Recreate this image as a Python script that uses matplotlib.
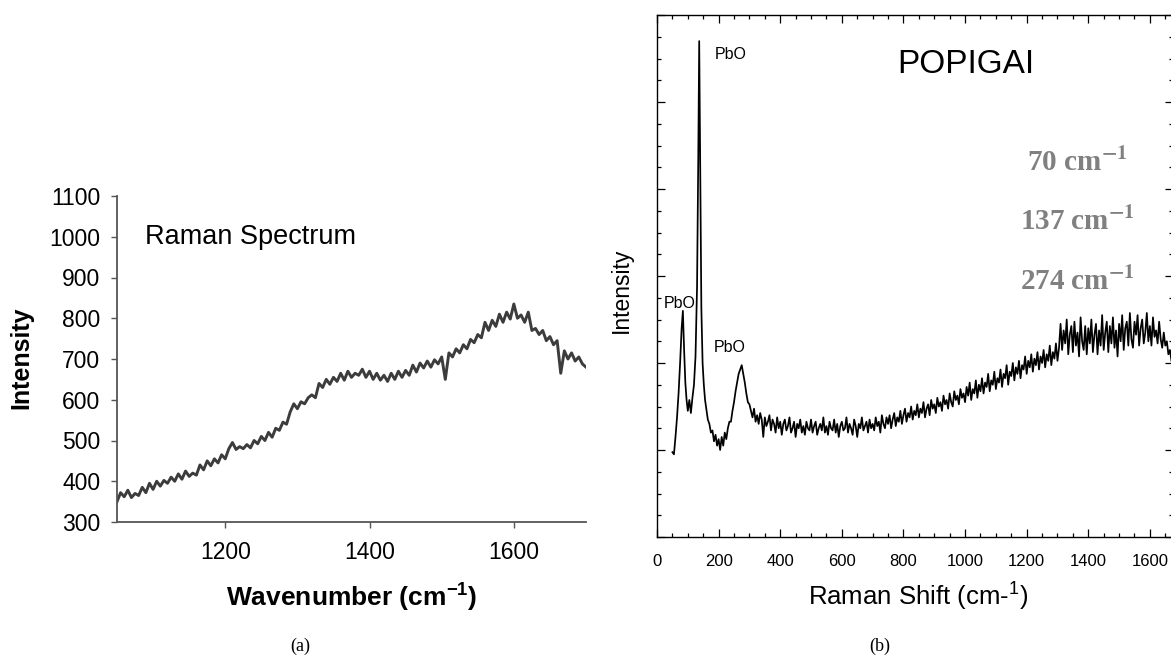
import numpy as np
import matplotlib
matplotlib.use("Agg")
import matplotlib.pyplot as plt
from matplotlib.ticker import MultipleLocator

plt.rcParams['font.family'] = ['Liberation Sans', 'DejaVu Sans']
plt.rcParams['mathtext.fontset'] = 'custom'
plt.rcParams['mathtext.rm'] = 'Liberation Sans'
plt.rcParams['mathtext.bf'] = 'Liberation Sans:bold'
plt.rcParams['mathtext.it'] = 'Liberation Sans:italic'

# (a) Raman spectrum, 1050-1700 cm-1, step 5
wn_a = np.arange(1050, 1701, 5)
int_a = [350, 372, 362, 378, 360, 370, 365, 385, 372, 395,
         380, 400, 388, 402, 395, 410, 400, 418, 405, 425,
         412, 420, 415, 440, 428, 450, 438, 455, 445, 465,
         455, 480, 495, 478, 485, 480, 490, 482, 500, 492,
         510, 500, 520, 508, 530, 525, 545, 540, 570, 590,
         578, 595, 590, 605, 612, 605, 640, 630, 650, 638,
         655, 645, 665, 648, 670, 655, 665, 660, 675, 655,
         670, 650, 665, 648, 660, 645, 665, 650, 670, 655,
         672, 660, 685, 668, 690, 678, 695, 680, 698, 688,
         705, 650, 715, 705, 725, 715, 735, 725, 748, 740,
         760, 752, 790, 770, 795, 780, 810, 790, 815, 798,
         835, 800, 808, 790, 815, 770, 775, 760, 770, 745,
         755, 735, 745, 665, 720, 700, 715, 695, 705, 688,
         680]

# (b) POPIGAI spectrum (arbitrary intensity units)
wn_b = [50, 55, 60, 65, 70, 75, 80, 84, 88, 92, 96, 100, 105, 110, 115,
        120, 125, 130, 134, 137, 140, 144, 148, 152, 156] + list(range(160, 1671, 5))
int_b = [3.9, 3.8, 4.6, 5.5, 6.6, 8.0, 9.6, 10.4, 8.6, 7.1, 6.3, 5.8, 6.3, 5.7, 6.4,
         7.0, 8.3, 11.5, 17.5, 22.8, 17.5, 10.5, 8.0, 7.0, 6.3,
         5.9, 5.4, 5.2, 4.8, 4.9, 4.4, 4.7, 4.2, 4.5, 4.0,
         4.6, 4.2, 4.8, 4.5, 5.0, 5.3, 5.3, 5.8, 6.2, 6.7,
         7.1, 7.5, 7.7, 7.9, 7.5, 7.1, 6.6, 6.2,
         6.1, 5.8, 5.5, 5.9, 5.3, 5.6, 5.2, 5.7, 5.4, 4.6,
         5.5, 5.1, 5.3, 5.6, 4.9, 5.4, 5.2, 4.8, 5.5, 5.0,
         5.3, 4.7, 5.2, 5.4, 4.9, 5.1, 5.5, 4.8, 5.0, 5.3,
         4.6, 5.2, 5.0, 5.4, 4.8, 5.1, 4.7, 5.3, 5.0, 4.9,
         5.4, 4.8, 5.1, 5.3, 4.7, 5.0, 5.2, 4.9, 5.5, 4.8,
         5.1, 4.7, 5.3, 5.0, 4.9, 5.4, 4.8, 5.2, 4.6, 5.1,
         5.3, 4.9, 5.0, 5.5, 4.8, 5.2, 5.0, 4.7, 5.4, 5.1,
         4.6, 5.2, 5.0, 5.5, 4.9, 5.1, 5.3, 4.8, 5.4, 5.0,
         5.2, 4.9, 5.5, 5.1, 5.3, 4.8, 5.6, 5.2, 5.0, 5.5,
         5.2, 5.6, 5.0, 5.4, 5.7, 5.1, 5.5, 5.3, 5.8, 5.2,
         5.6, 5.9, 5.3, 5.7, 5.5, 6.0, 5.4, 5.8, 5.6, 6.1,
         5.5, 5.9, 5.7, 6.2, 5.5, 5.9, 6.1, 5.6, 6.3, 5.9,
         6.1, 5.7, 6.4, 6.0, 6.2, 5.8, 6.5, 6.1, 6.3, 5.9,
         6.6, 6.2, 6.0, 6.7, 6.3, 6.5, 6.1, 6.8, 6.4, 6.6,
         6.2, 6.9, 6.5, 7.1, 6.3, 6.8, 6.6, 7.2, 6.4, 7.0,
         6.7, 7.3, 6.6, 7.1, 6.9, 7.5, 6.7, 7.2, 7.0, 7.6,
         6.8, 7.3, 7.1, 7.7, 6.9, 7.5, 7.3, 7.9, 7.0, 7.6,
         7.4, 8.0, 7.2, 7.8, 7.5, 8.1, 7.3, 7.9, 7.7, 8.3,
         7.5, 8.1, 7.8, 8.4, 7.6, 8.2, 7.9, 8.5, 7.7, 8.3,
         8.0, 8.6, 7.8, 8.4, 8.1, 8.8, 7.9, 8.5, 8.2, 8.9,
         8.1, 8.7, 9.8, 8.6, 9.5, 8.9, 10.0, 8.4, 9.3, 9.7,
         8.5, 9.9, 8.8, 9.4, 8.3, 10.1, 9.0, 8.6, 9.7, 8.4,
         9.6, 8.9, 10.0, 8.5, 9.3, 9.8, 8.4, 9.5, 8.8, 10.2,
         8.6, 9.4, 9.9, 8.5, 9.7, 8.9, 10.1, 8.7, 9.5, 8.3,
         9.8, 9.0, 10.2, 8.6, 9.6, 9.9, 8.8, 10.3, 9.1, 8.7,
         9.9, 9.3, 10.2, 8.8, 9.6, 10.0, 8.9, 9.4, 10.3, 9.0,
         9.7, 8.8, 10.1, 9.2, 9.5, 8.9, 9.9, 9.1, 8.7, 9.4,
         8.8, 9.0, 8.4, 8.6, 8.1]

W, H = 1171, 658
fig = plt.figure(figsize=(W / 100, H / 100), dpi=100)


def frac(x0, y0, x1, y1):
    # pixel box -> figure fraction
    return [x0 / W, 1 - y1 / H, (x1 - x0) / W, (y1 - y0) / H]


# ---------- panel (a) ----------
ax1 = fig.add_axes(frac(117, 196, 586, 522))
gray = '#3c3c3c'
ax1.plot(wn_a, int_a, color=gray, lw=2.1)
ax1.set_xlim(1050, 1700)
ax1.set_ylim(300, 1100)
ax1.set_xticks([1200, 1400, 1600])
ax1.set_yticks(range(300, 1101, 100))
for s in ['top', 'right']:
    ax1.spines[s].set_visible(False)
for s in ['left', 'bottom']:
    ax1.spines[s].set_color('#555555')
    ax1.spines[s].set_linewidth(1.3)
ax1.tick_params(axis='both', direction='out', length=4, width=1, color='#555555',
                labelsize=16.5)
ax1.tick_params(axis='x', pad=10)
ax1.tick_params(axis='y', pad=8)
ax1.set_ylabel('Intensity', fontsize=18, fontweight='bold')
ax1.yaxis.set_label_coords(-0.203, 0.503)
ax1.yaxis.label.set_va('center')
ax1.set_xlabel(r'Wavenumber (cm$^{\mathbf{-1}}$)', fontsize=19, fontweight='bold')
ax1.xaxis.set_label_coords(0.50, -0.233)
ax1.xaxis.label.set_va('center')
ax1.text(0.06, 0.875, 'Raman Spectrum', transform=ax1.transAxes, fontsize=19.5,
         ha='left', va='center')

# ---------- panel (b) ----------
ax2 = fig.add_axes(frac(657, 15, 1173, 537))
ax2.plot(wn_b, int_b, color='black', lw=1.25)
ax2.set_xlim(0, 1675)
ax2.set_ylim(0, 24)
ax2.xaxis.set_major_locator(MultipleLocator(200))
ax2.xaxis.set_minor_locator(MultipleLocator(50))
ax2.yaxis.set_major_locator(MultipleLocator(4))
ax2.yaxis.set_minor_locator(MultipleLocator(1))
ax2.tick_params(which='both', direction='in', top=True, right=True, width=0.9)
ax2.tick_params(which='major', length=6)
ax2.tick_params(which='minor', length=3)
ax2.tick_params(axis='x', labelsize=12, pad=12)
ax2.tick_params(axis='y', labelleft=False)
for s in ax2.spines.values():
    s.set_linewidth(1.0)
ax2.set_ylabel('Intensity', fontsize=16.5)
ax2.yaxis.set_label_coords(-0.07, 0.473)
ax2.yaxis.label.set_va('center')
ax2.set_xlabel(r'Raman Shift (cm-$^{1}$)', fontsize=18.5)
ax2.xaxis.set_label_coords(0.506, -0.115)
ax2.xaxis.label.set_va('center')

ax2.text(0.599, 0.906, 'POPIGAI', transform=ax2.transAxes, fontsize=24,
         ha='center', va='center')
ax2.text(188, 22.2, 'PbO', fontsize=11.5, ha='left', va='center')
ax2.text(23, 10.75, 'PbO', fontsize=11.5, ha='left', va='center')
ax2.text(185, 8.7, 'PbO', fontsize=11.5, ha='left', va='center')

peak_labels = ['70 cm$^{\\mathbf{-1}}$', '137 cm$^{\\mathbf{-1}}$', '274 cm$^{\\mathbf{-1}}$']
for lab, yy in zip(peak_labels, [0.716, 0.603, 0.489]):
    ax2.text(0.814, yy, lab, transform=ax2.transAxes, fontsize=21,
             fontweight='bold', color='#808080', ha='center', va='center',
             family='Liberation Serif', math_fontfamily='stix')

fig.text(300 / W, 1 - 646 / H, '(a)', fontsize=13, family='Liberation Serif',
         ha='center', va='center')
fig.text(880 / W, 1 - 646 / H, '(b)', fontsize=13, family='Liberation Serif',
         ha='center', va='center')

fig.savefig('out.png', dpi=100)
